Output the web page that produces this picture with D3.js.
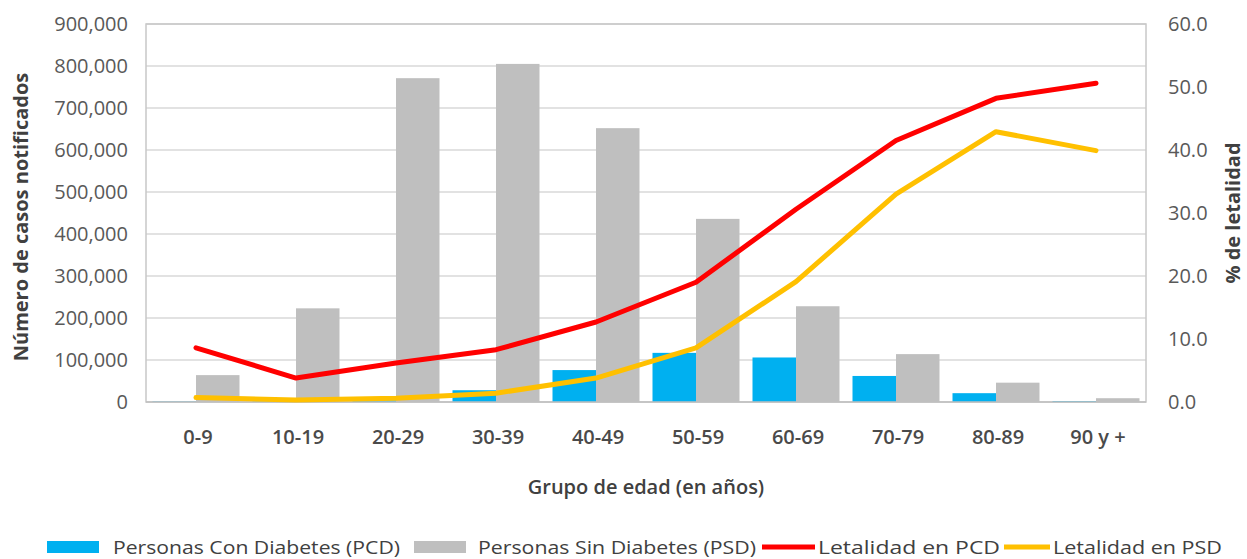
<!DOCTYPE html>
<html>
<head>
<meta charset="utf-8">
<script src="https://cdn.jsdelivr.net/npm/d3@7"></script>
<style>
  html, body { margin: 0; padding: 0; background: #fff; }
  svg { display: block; font-family: "Open Sans", "Noto Sans", sans-serif; }
</style>
</head>
<body>
<svg id="chart" width="1247" height="559"></svg>
<script>
// Age groups and series
const categories = ["0-9", "10-19", "20-29", "30-39", "40-49", "50-59", "60-69", "70-79", "80-89", "90 y +"];
const casosPCD = [1000, 1500, 4000, 28000, 76000, 117000, 106000, 62000, 21000, 2000];
const casosPSD = [64000, 223000, 771000, 805000, 652000, 436000, 228000, 114000, 46000, 9000];
const letalidadPCD = [8.6, 3.8, 6.2, 8.3, 12.7, 19.0, 30.6, 41.5, 48.2, 50.6];
const letalidadPSD = [0.7, 0.3, 0.6, 1.4, 3.8, 8.6, 19.1, 33.0, 42.9, 39.9];
const leftTicks = d3.range(0, 900001, 100000);
const rightTicks = d3.range(0, 60.1, 10);

const colors = { pcd: "#00B0F0", psd: "#BFBFBF", lpcd: "#FF0000", lpsd: "#FFC000" };

const svg = d3.select("#chart");
const plot = { left: 146, right: 1146, top: 24, bottom: 402 };

const x = d3.scaleBand().domain(categories).range([plot.left, plot.right])
  .paddingInner(0.13).paddingOuter(0.065);
const xs = d3.scaleBand().domain(["pcd", "psd"]).range([0, x.bandwidth()]);
const yL = d3.scaleLinear().domain([0, 900000]).range([plot.bottom, plot.top]);
const yR = d3.scaleLinear().domain([0, 60]).range([plot.bottom, plot.top]);

// Gridlines
svg.append("g").selectAll("line").data(leftTicks.slice(1)).join("line")
  .attr("x1", plot.left).attr("x2", plot.right)
  .attr("y1", d => yL(d)).attr("y2", d => yL(d))
  .attr("stroke", "#D9D9D9").attr("stroke-width", 1.5);

// Plot frame
svg.append("rect")
  .attr("x", plot.left).attr("y", plot.top)
  .attr("width", plot.right - plot.left).attr("height", plot.bottom - plot.top)
  .attr("fill", "none").attr("stroke", "#C8C8C8").attr("stroke-width", 1.5);

// Bars
const groups = svg.append("g").selectAll("g").data(categories).join("g")
  .attr("transform", d => `translate(${x(d)},0)`);
groups.append("rect")
  .attr("x", xs("pcd")).attr("width", xs.bandwidth())
  .attr("y", (d, i) => yL(casosPCD[i]))
  .attr("height", (d, i) => yL(0) - yL(casosPCD[i]))
  .attr("fill", colors.pcd);
groups.append("rect")
  .attr("x", xs("psd")).attr("width", xs.bandwidth())
  .attr("y", (d, i) => yL(casosPSD[i]))
  .attr("height", (d, i) => yL(0) - yL(casosPSD[i]))
  .attr("fill", colors.psd);

// Bottom axis line
svg.append("line")
  .attr("x1", plot.left).attr("x2", plot.right)
  .attr("y1", plot.bottom).attr("y2", plot.bottom)
  .attr("stroke", "#BFBFBF").attr("stroke-width", 1.5);

// Lethality lines
const cx = d => x(d) + x.bandwidth() / 2;
const line = vals => d3.line().x((d, i) => cx(d)).y((d, i) => yR(vals[i]))(categories);
svg.append("path").attr("d", line(letalidadPSD))
  .attr("fill", "none").attr("stroke", colors.lpsd).attr("stroke-width", 5)
  .attr("stroke-linejoin", "round").attr("stroke-linecap", "round");
svg.append("path").attr("d", line(letalidadPCD))
  .attr("fill", "none").attr("stroke", colors.lpcd).attr("stroke-width", 5)
  .attr("stroke-linejoin", "round").attr("stroke-linecap", "round");

// Axes
const tickColor = "#595959";
const axL = svg.append("g").attr("transform", `translate(${plot.left},0)`)
  .call(d3.axisLeft(yL).tickValues(leftTicks).tickFormat(d3.format(",")).tickSize(0).tickPadding(18));
const axR = svg.append("g").attr("transform", `translate(${plot.right},0)`)
  .call(d3.axisRight(yR).tickValues(rightTicks).tickFormat(d3.format(".1f")).tickSize(0).tickPadding(22));
const axB = svg.append("g").attr("transform", `translate(0,${plot.bottom})`)
  .call(d3.axisBottom(x).tickSize(0).tickPadding(28));
[axL, axR, axB].forEach(a => {
  a.select(".domain").remove();
  a.selectAll("text").attr("fill", tickColor).style("font-size", "20px").style("font-family", "Open Sans");
});
axB.selectAll("text").attr("fill", "#4a4a4a").style("font-weight", "600")
  .attr("dx", 2);

// Axis titles
const titleColor = "#404040";
svg.append("text")
  .attr("transform", `translate(28,${(plot.top + plot.bottom) / 2 + 4}) rotate(-90)`)
  .attr("text-anchor", "middle").attr("fill", titleColor)
  .style("font-size", "20px").style("font-weight", "bold")
  .text("Número de casos notificados");
svg.append("text")
  .attr("transform", `translate(1240,${(plot.top + plot.bottom) / 2}) rotate(-90)`)
  .attr("text-anchor", "middle").attr("fill", titleColor)
  .style("font-size", "20px").style("font-weight", "bold")
  .text("% de letalidad");
svg.append("text")
  .attr("x", (plot.left + plot.right) / 2).attr("y", 494)
  .attr("text-anchor", "middle").attr("fill", titleColor)
  .style("font-size", "20px").style("font-weight", "600")
  .text("Grupo de edad (en años)");

// Legend
const legendItems = [
  { label: "Personas Con Diabetes (PCD)", color: colors.pcd, type: "rect", sx: 47, tx: 113, tw: 287 },
  { label: "Personas Sin Diabetes (PSD)", color: colors.psd, type: "rect", sx: 414, tx: 478, tw: 278 },
  { label: "Letalidad en PCD", color: colors.lpcd, type: "line", sx: 762, tx: 818, tw: 182 },
  { label: "Letalidad en PSD", color: colors.lpsd, type: "line", sx: 1004, tx: 1053, tw: 169 }
];
const leg = svg.append("g").selectAll("g").data(legendItems).join("g");
leg.filter(d => d.type === "rect").append("rect")
  .attr("x", d => d.sx).attr("y", 541).attr("width", 52).attr("height", 12)
  .attr("fill", d => d.color);
leg.filter(d => d.type === "line").append("line")
  .attr("x1", d => d.sx).attr("x2", d => d.tx - 3)
  .attr("y1", 547).attr("y2", 547)
  .attr("stroke", d => d.color).attr("stroke-width", 5);
leg.append("text")
  .attr("x", d => d.tx).attr("y", 554)
  .attr("fill", "#404040").style("font-size", "18px")
  .attr("textLength", d => d.tw).attr("lengthAdjust", "spacingAndGlyphs")
  .text(d => d.label);
</script>
</body>
</html>
